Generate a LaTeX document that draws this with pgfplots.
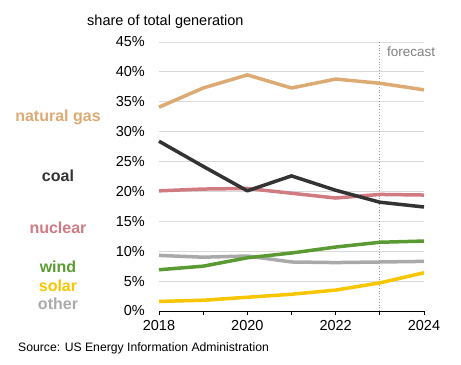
\documentclass[border=0pt]{standalone}
\usepackage{pgfplots}
\pgfplotsset{compat=1.18}
\usepackage{fontspec}
\setmainfont{Liberation Sans}
\definecolor{gas}{RGB}{222,170,115}
\definecolor{coal}{RGB}{51,51,51}
\definecolor{nuclear}{RGB}{208,122,130}
\definecolor{wind}{RGB}{91,154,51}
\definecolor{solar}{RGB}{247,198,0}
\definecolor{other}{RGB}{170,170,170}
\definecolor{gridc}{RGB}{217,217,217}
\begin{document}
\begin{tikzpicture}
\useasboundingbox (-159bp,-54bp) rectangle (302bp,311bp);
\begin{axis}[
  at={(0,0)}, anchor=south west,
  scale only axis, width=265bp, height=269bp,
  xmin=2018, xmax=2024, ymin=0, ymax=45,
  axis x line*=bottom, axis y line*=left,
  y axis line style={draw=none},
  x axis line style={black, line width=0.8bp},
  xtick={2018,2019,...,2024},
  xticklabels={2018,,2020,,2022,,2024},
  ytick={0,5,...,45},
  yticklabel={\pgfmathprintnumber{\tick}\%},
  /pgf/number format/assume math mode=true,
  tick align=outside,
  major tick length=4bp,
  x tick style={black, line width=0.8bp},
  y tick style={draw=none},
  ymajorgrids,
  grid style={gridc, line width=1bp},
  tick label style={font=\fontsize{14.5bp}{16bp}\selectfont},
  yticklabel style={anchor=east, inner sep=0pt, xshift=-10bp},
  xticklabel style={anchor=north, inner sep=0pt, yshift=-5bp},
  clip=false,
]
\draw[gray!80, dotted, line width=0.8bp] (axis cs:2023,0) -- (axis cs:2023,45);
\addplot[gas, line width=3.5bp, line join=round] coordinates {(2018,34.1)(2019,37.3)(2020,39.5)(2021,37.3)(2022,38.8)(2023,38.1)(2024,37.0)};
\addplot[nuclear, line width=3.5bp, line join=round] coordinates {(2018,20.1)(2019,20.4)(2020,20.5)(2021,19.7)(2022,18.9)(2023,19.5)(2024,19.4)};
\addplot[other, line width=3.5bp, line join=round] coordinates {(2018,9.3)(2019,9.0)(2020,9.2)(2021,8.2)(2022,8.1)(2023,8.2)(2024,8.3)};
\addplot[wind, line width=3.5bp, line join=round] coordinates {(2018,6.9)(2019,7.5)(2020,8.9)(2021,9.7)(2022,10.7)(2023,11.5)(2024,11.7)};
\addplot[solar, line width=3.5bp, line join=round] coordinates {(2018,1.6)(2019,1.8)(2020,2.3)(2021,2.8)(2022,3.5)(2023,4.7)(2024,6.4)};
\addplot[coal, line width=3.5bp, line join=round] coordinates {(2018,28.4)(2019,24.2)(2020,20.1)(2021,22.6)(2022,20.2)(2023,18.2)(2024,17.4)};
\end{axis}
\node[anchor=west, inner sep=0pt, font=\fontsize{14.5bp}{16bp}\selectfont] at (-72bp,289bp) {share of total generation};
\node[anchor=west, inner sep=0pt, text=gray, font=\fontsize{13.5bp}{15bp}\selectfont] at (228bp,259bp) {forecast};
\node[anchor=west, inner sep=0pt, font=\fontsize{12.2bp}{14bp}\selectfont] at (-141bp,-37bp) {Source: US Energy Information Administration};
\begin{scope}[every node/.style={inner sep=0pt, font=\bfseries\fontsize{16bp}{18bp}\selectfont}]
\node[text=gas] at (-101bp,194bp) {natural gas};
\node[text=coal] at (-101bp,135bp) {coal};
\node[text=nuclear] at (-101bp,83bp) {nuclear};
\node[text=wind] at (-101bp,44bp) {wind};
\node[text=solar] at (-101bp,25bp) {solar};
\node[text=other] at (-101bp,7bp) {other};
\end{scope}
\end{tikzpicture}
\end{document}
